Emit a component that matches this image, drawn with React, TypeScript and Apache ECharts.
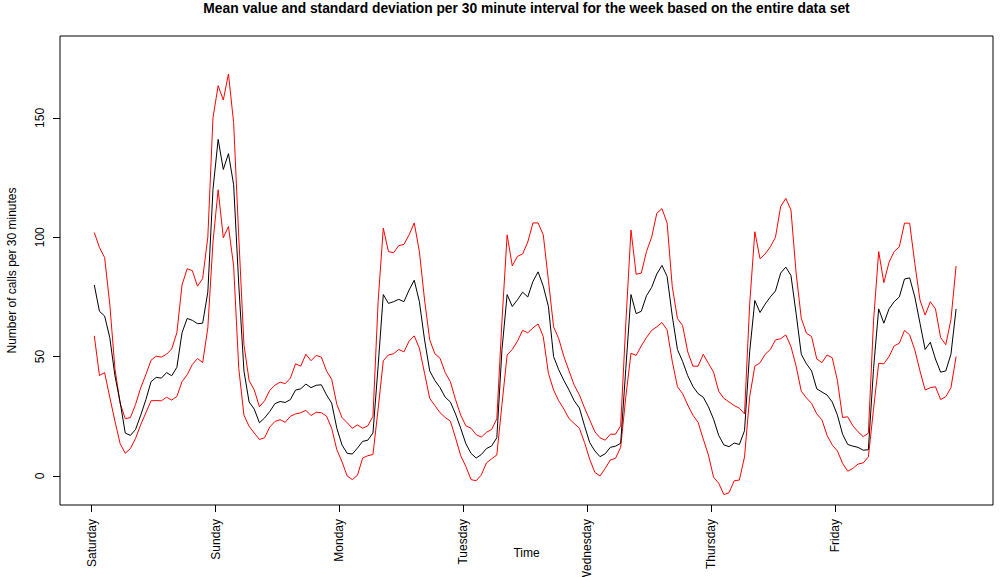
import { useEffect, useRef } from "react";
import * as echarts from "echarts";

// Day names placed at the first half-hour slot of each day
const dayLabels = ["Saturday", "Sunday", "Monday", "Tuesday", "Wednesday", "Thursday", "Friday"];
const dayTicks = [0, 48, 96, 144, 192, 240, 288];
const yTicks = [0, 50, 100, 150];

// Readings every second half-hour slot (slots 1, 3, 5, ... 335), one row per day
const firstSlot = 1;
const slotStep = 2;

const meanCalls = [
  80, 69, 67, 58, 42, 31, 18, 17, 19.5, 25.5, 32, 39.5, 41.3, 41, 43.3, 42, 45.5, 60, 66, 65.2, 63.8, 64, 77, 120,
  141, 128.4, 135, 122, 80, 44, 31, 28, 22.3, 24.3, 27, 30.3, 31.2, 30.8, 32, 36, 36.5, 38.5, 37, 38, 38.2, 34, 30.5, 20,
  13, 9.5, 9.2, 11.7, 14.5, 15, 18, 46, 76, 72.3, 73, 74, 73, 77.9, 82, 73, 57, 44, 40, 37, 33, 31, 26, 20,
  13.5, 9.5, 7.5, 9, 11.5, 12.6, 16, 53, 76, 71, 73.8, 77, 75, 81.5, 85.5, 79.5, 71, 50, 44.5, 40, 36, 31.5, 28.5, 21,
  14, 10.5, 8.1, 9.3, 12, 12.5, 13.7, 45, 76, 68, 69, 75.5, 79, 84.6, 88.2, 83.6, 67, 53, 48, 42, 37.5, 34.5, 33, 29,
  23.8, 17, 13, 12.3, 13.8, 13.2, 19, 52, 73.5, 68.5, 72, 75, 77.5, 85, 87.5, 84, 68, 51, 47, 44, 36.5, 35.2, 33.9, 31,
  25.5, 17.5, 13.2, 12.5, 12, 10.8, 11, 45, 70, 64, 70, 73, 75, 82.5, 83, 75, 64, 53, 56, 49, 43.5, 44, 51, 70,
];

// mean + standard deviation
const upperBand = [
  102, 95.7, 91.5, 72, 45, 30.5, 24, 24.5, 30, 37, 42.5, 48.5, 50.2, 49.8, 51, 53.2, 60, 80, 86.8, 86, 79.5, 82.7, 100, 150,
  163.5, 157.5, 168.4, 148, 100, 55, 40, 36, 29, 31.5, 35.9, 38, 39.3, 38.7, 41, 47, 46, 51, 48.3, 50.5, 49.8, 44, 40.5, 30,
  24.5, 22.3, 20, 21.4, 20, 21, 25, 73, 103.8, 94, 93.5, 96.5, 97, 101, 106, 94, 73.7, 57, 51.2, 49.3, 43.3, 39.5, 32, 25.5,
  21, 20, 17.3, 16.3, 18.3, 19.5, 24, 65, 101, 88, 92, 93, 98, 106, 106, 101, 82, 62.5, 57.5, 50, 44, 38, 34, 28.5,
  23.5, 18.5, 16, 15, 17.5, 17.5, 21, 64, 103, 84.5, 85, 94, 100, 110, 112, 106, 79.3, 66, 63, 52, 46, 46, 51, 47.2,
  43.5, 35.5, 32.5, 31, 29.5, 28.4, 26, 72, 102.3, 91, 93, 96, 100, 112.8, 116.3, 111.4, 85, 66, 59.8, 58.4, 49, 47.5, 50.7, 49.5,
  40, 24.5, 24.8, 21, 18.5, 16.5, 17.9, 65, 94, 81, 89.5, 94, 96, 105.9, 105.9, 89, 73.7, 67.4, 73, 70, 58, 55, 65.5, 88,
];

// mean - standard deviation
const lowerBand = [
  58.7, 42.1, 43.3, 33, 23, 13.6, 9.5, 11.5, 15.8, 21.5, 26.5, 31.5, 31.6, 31.5, 33, 31.8, 33.3, 39.5, 42.4, 46.7, 49.2, 47.5, 62, 98,
  119.9, 99.8, 104.5, 88, 45, 25.5, 20.8, 18, 15.3, 16, 20.5, 22.8, 23.6, 22.5, 25, 26, 26.5, 27.5, 25.3, 26.7, 26.5, 25.1, 20, 11,
  6, 0, -1.5, 0.3, 7.5, 8.5, 9, 28, 48.3, 50.7, 51.2, 53, 52, 56.5, 58.7, 53.5, 43, 32.5, 29.5, 26.5, 24.5, 23, 16, 8.5,
  4, -1.5, -2, 0.5, 5.5, 7.2, 8.8, 30, 50.7, 53, 56.5, 61, 60, 62, 63.7, 58.4, 43, 36, 31.5, 28, 24, 22, 20, 14,
  7, 1.5, 0, 3.2, 6.7, 7.4, 12, 33.2, 51.4, 50.5, 54.5, 58, 61, 62.5, 64.3, 61.2, 48, 37.4, 34.5, 29.7, 25.5, 22.5, 15.5, 8.8,
  -0.5, -3, -7.8, -7, -2, -1.7, 8, 33.2, 46, 47.4, 51, 53, 57, 57.5, 59.1, 54.2, 46, 35.5, 32.7, 30.4, 26, 23.5, 17, 13,
  10.5, 5.3, 2, 3.2, 5, 5.5, 8, 28, 47.2, 47, 50, 54.5, 55.6, 61, 59.1, 52.8, 44, 36, 37, 37.4, 32, 33.2, 37, 50,
];

const toPoints = (values: number[]) => values.map((v, k) => [firstSlot + k * slotStep, v]);

const FONT = "'Liberation Sans', Arial, Helvetica, sans-serif";

export default function App() {
  const ref = useRef<HTMLDivElement>(null);

  useEffect(() => {
    if (!ref.current) return;
    const chart = echarts.init(ref.current, undefined, { renderer: "svg" });
    const lineSeries = (name: string, values: number[], color: string) => ({
      name,
      type: "line",
      data: toPoints(values),
      symbol: "none",
      lineStyle: { color, width: 1 },
      itemStyle: { color },
      silent: true,
    });
    chart.setOption({
      animation: false,
      backgroundColor: "#ffffff",
      textStyle: { fontFamily: FONT },
      title: {
        text: "Mean value and standard deviation per 30 minute interval for the week based on the entire data set",
        left: 526.5,
        top: 1,
        textAlign: "center",
        padding: 0,
        textStyle: { fontFamily: FONT, fontSize: 13.8, fontWeight: "bold", color: "#000" },
      },
      grid: {
        left: 60,
        right: 10,
        top: 36,
        bottom: 72,
        outerBoundsMode: "none",
        containLabel: false,
        show: true,
        borderColor: "#000",
        borderWidth: 1,
        backgroundColor: "transparent",
      },
      xAxis: {
        type: "value",
        min: -12.29,
        max: 349.3,
        name: "Time",
        nameLocation: "middle",
        nameGap: 42,
        nameMoveOverlap: false,
        nameTextStyle: { fontFamily: FONT, fontSize: 12, color: "#000" },
        axisLine: { show: false, onZero: false },
        splitLine: { show: false },
        axisTick: { show: true, customValues: dayTicks, length: 7, lineStyle: { color: "#000", width: 1 } },
        axisLabel: {
          customValues: dayTicks,
          rotate: 90,
          margin: 14,
          fontFamily: FONT,
          fontSize: 12,
          color: "#000",
          formatter: (v: number) => {
            const idx = dayTicks.indexOf(v);
            return idx >= 0 ? dayLabels[idx] : "";
          },
        },
      },
      yAxis: {
        type: "value",
        min: -12.15,
        max: 184.3,
        name: "Number of calls per 30 minutes",
        nameLocation: "middle",
        nameGap: 42,
        nameMoveOverlap: false,
        nameTextStyle: { fontFamily: FONT, fontSize: 12, color: "#000" },
        axisLine: { show: false, onZero: false },
        splitLine: { show: false },
        axisTick: { show: true, customValues: yTicks, length: 7, lineStyle: { color: "#000", width: 1 } },
        axisLabel: {
          customValues: yTicks,
          rotate: 90,
          margin: 14,
          fontFamily: FONT,
          fontSize: 12,
          color: "#000",
        },
      },
      series: [
        lineSeries("mean + sd", upperBand, "#ff0000"),
        lineSeries("mean - sd", lowerBand, "#ff0000"),
        lineSeries("mean", meanCalls, "#000000"),
      ],
    });
    return () => chart.dispose();
  }, []);

  return (
    <div
      ref={ref}
      style={{ position: "absolute", left: 0, top: 0, width: 1003, height: 577, background: "#fff" }}
    />
  );
}
